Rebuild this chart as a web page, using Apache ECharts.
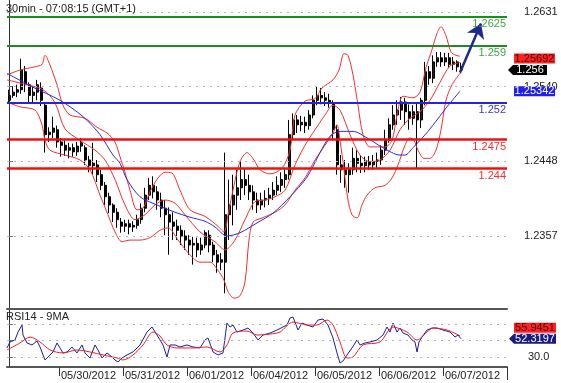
<!DOCTYPE html>
<html><head><meta charset="utf-8">
<script src="https://cdn.jsdelivr.net/npm/echarts@6/dist/echarts.min.js"></script>
<style>html,body{margin:0;padding:0;background:#fff}#c{width:561px;height:383px}</style>
</head><body><div id="c"></div>
<script>
// ---------- DATA ----------
const dayLabels = ['05/30/2012','05/31/2012','06/01/2012','06/04/2012','06/05/2012','06/06/2012','06/07/2012'];
const dayStartSlots = [13, 29, 45, 61, 77, 93, 109];   // 90-min slots
const NSLOT = 125;

const candleOpen = [1.2523,1.2529,1.2533,1.2536,1.2558,1.2542,1.2529,1.2533,1.2538,1.2517,
1.2481,1.2484,1.2487,1.2472,1.2468,1.2462,1.2465,1.2460,1.2467,1.2465,
1.2450,1.2443,1.2444,1.2432,1.2419,1.2405,1.2395,1.2386,1.2374,1.2369,
1.2372,1.2368,1.2370,1.2377,1.2391,1.2407,1.2419,1.2411,1.2401,1.2391,
1.2383,1.2374,1.2369,1.2364,1.2357,1.2352,1.2346,1.2348,1.2340,1.2346,
1.2358,1.2346,1.2334,1.2325,1.2325,1.2383,1.2395,1.2407,1.2416,1.2426,
1.2419,1.2411,1.2401,1.2395,1.2401,1.2403,1.2407,1.2413,1.2419,1.2426,
1.2432,1.2481,1.2499,1.2493,1.2496,1.2492,1.2505,1.2523,1.2529,1.2526,
1.2523,1.2520,1.2487,1.2444,1.2438,1.2432,1.2438,1.2452,1.2446,1.2443,
1.2448,1.2444,1.2448,1.2450,1.2462,1.2474,1.2493,1.2505,1.2511,1.2521,
1.2509,1.2501,1.2509,1.2499,1.2523,1.2558,1.2550,1.2570,1.2575,1.2570,
1.2575,1.2567,1.2570,1.2564];
const candleClose = [1.2529,1.2533,1.2536,1.2560,1.2542,1.2529,1.2533,1.2542,1.2523,1.2481,
1.2484,1.2489,1.2472,1.2468,1.2462,1.2465,1.2460,1.2467,1.2471,1.2450,
1.2443,1.2446,1.2432,1.2419,1.2405,1.2395,1.2386,1.2377,1.2369,1.2372,
1.2368,1.2370,1.2377,1.2391,1.2407,1.2419,1.2411,1.2401,1.2391,1.2383,
1.2374,1.2369,1.2364,1.2357,1.2352,1.2346,1.2348,1.2340,1.2346,1.2361,
1.2346,1.2334,1.2325,1.2328,1.2383,1.2395,1.2407,1.2416,1.2426,1.2419,
1.2411,1.2401,1.2395,1.2401,1.2403,1.2407,1.2413,1.2419,1.2426,1.2432,
1.2481,1.2499,1.2493,1.2496,1.2492,1.2505,1.2523,1.2529,1.2526,1.2523,
1.2520,1.2487,1.2444,1.2438,1.2432,1.2438,1.2452,1.2446,1.2443,1.2448,
1.2444,1.2448,1.2450,1.2462,1.2474,1.2493,1.2505,1.2511,1.2521,1.2509,
1.2501,1.2509,1.2499,1.2523,1.2558,1.2550,1.2570,1.2575,1.2570,1.2575,
1.2567,1.2570,1.2564,1.2560];
const candleLow = [1.2520,1.2526,1.2527,1.2531,1.2533,1.2520,1.2520,1.2523,1.2516,1.2459,
1.2472,1.2477,1.2465,1.2454,1.2455,1.2452,1.2454,1.2455,1.2460,1.2444,
1.2435,1.2432,1.2423,1.2413,1.2395,1.2385,1.2374,1.2367,1.2361,1.2362,
1.2359,1.2362,1.2366,1.2372,1.2386,1.2401,1.2403,1.2389,1.2380,1.2358,
1.2334,1.2352,1.2352,1.2346,1.2340,1.2334,1.2322,1.2331,1.2334,1.2342,
1.2337,1.2325,1.2312,1.2315,1.2287,1.2352,1.2370,1.2389,1.2401,1.2407,
1.2401,1.2389,1.2385,1.2389,1.2392,1.2395,1.2401,1.2407,1.2411,1.2416,
1.2426,1.2474,1.2483,1.2485,1.2483,1.2487,1.2501,1.2517,1.2518,1.2516,
1.2514,1.2474,1.2432,1.2422,1.2416,1.2410,1.2432,1.2435,1.2434,1.2435,
1.2438,1.2438,1.2440,1.2444,1.2456,1.2471,1.2487,1.2493,1.2499,1.2493,
1.2487,1.2493,1.2440,1.2489,1.2517,1.2542,1.2544,1.2564,1.2564,1.2565,
1.2563,1.2560,1.2558,1.2556];
const candleHigh = [1.2536,1.2540,1.2542,1.2574,1.2565,1.2545,1.2540,1.2548,1.2545,1.2520,
1.2490,1.2503,1.2492,1.2477,1.2474,1.2471,1.2470,1.2472,1.2477,1.2468,
1.2455,1.2471,1.2450,1.2438,1.2423,1.2410,1.2397,1.2391,1.2379,1.2377,
1.2377,1.2375,1.2383,1.2397,1.2416,1.2428,1.2430,1.2418,1.2410,1.2401,
1.2392,1.2386,1.2377,1.2370,1.2364,1.2358,1.2356,1.2355,1.2355,1.2364,
1.2364,1.2350,1.2340,1.2336,1.2459,1.2426,1.2432,1.2438,1.2448,1.2440,
1.2432,1.2419,1.2410,1.2410,1.2413,1.2416,1.2423,1.2430,1.2435,1.2440,
1.2499,1.2507,1.2505,1.2504,1.2503,1.2511,1.2529,1.2540,1.2538,1.2533,
1.2531,1.2523,1.2493,1.2456,1.2450,1.2446,1.2465,1.2462,1.2456,1.2454,
1.2455,1.2456,1.2459,1.2468,1.2487,1.2501,1.2517,1.2523,1.2527,1.2526,
1.2518,1.2517,1.2520,1.2526,1.2570,1.2565,1.2578,1.2582,1.2582,1.2581,
1.2581,1.2576,1.2572,1.2569];

const bbUpper = [[-0.5,1.2554],[2.75,1.2560],[6.5,1.2564],[8.25,1.2567],[9,1.2578],[10.25,1.2566],[12,1.2542],[13.5,1.2517],[15.25,1.2505],[19,1.2501],[22,1.2490],[24.5,1.2483],[26.5,1.2472],[27.75,1.2454],[29,1.2435],[30.25,1.2413],[32,1.2389],[33.5,1.2391],[35.25,1.2411],[37.25,1.2428],[39,1.2435],[40.75,1.2434],[42.75,1.2413],[45.25,1.2389],[49,1.2381],[52,1.2370],[53.75,1.2362],[54.75,1.2383],[56.25,1.2419],[57.75,1.2448],[59.5,1.2459],[61.25,1.2450],[62.75,1.2438],[65.25,1.2433],[68.25,1.2440],[70.25,1.2462],[71.5,1.2505],[74,1.2522],[76.5,1.2525],[78.25,1.2538],[81,1.2548],[82.5,1.2560],[83.75,1.2580],[84.75,1.2578],[86,1.2554],[87.25,1.2517],[88.5,1.2481],[90.25,1.2466],[94,1.2466],[95.75,1.2474],[97,1.2505],[98.5,1.2528],[101,1.2526],[102.75,1.2533],[104.25,1.2563],[105.75,1.2585],[107,1.2605],[108,1.2613],[109.25,1.2602],[110.5,1.2582],[111.75,1.2578],[112.75,1.2577]];
const bbMiddle = [[-0.5,1.2548],[4.5,1.2542],[8.5,1.2536],[11.5,1.2520],[14,1.2488],[17.75,1.2474],[21.5,1.2462],[24,1.2450],[26.5,1.2426],[29,1.2395],[31.5,1.2377],[34,1.2383],[36.5,1.2395],[39,1.2401],[41.5,1.2397],[44,1.2383],[47.75,1.2362],[51.5,1.2350],[54,1.2340],[56.5,1.2352],[59,1.2377],[61.5,1.2399],[64,1.2401],[66.5,1.2405],[69,1.2413],[71.5,1.2444],[74,1.2468],[76.5,1.2487],[79,1.2505],[81,1.2517],[82.75,1.2511],[85.25,1.2481],[87.75,1.2456],[90.25,1.2448],[92.75,1.2450],[95.25,1.2462],[97.75,1.2487],[100.25,1.2501],[102.75,1.2509],[105.25,1.2523],[107.75,1.2545],[110.25,1.2565],[112.75,1.25692]];
const bbLower = [[-0.5,1.2521],[2.75,1.2515],[6.5,1.2511],[8.25,1.2493],[9,1.2474],[10.25,1.2462],[14,1.2456],[17.75,1.2450],[20.25,1.2438],[22.75,1.2407],[24.75,1.2383],[26.5,1.2362],[28.25,1.2350],[30.25,1.2352],[32.75,1.2352],[35.25,1.2355],[37.75,1.2364],[39.75,1.2367],[42.25,1.2352],[45.25,1.2334],[47.75,1.2325],[50.25,1.2325],[52.25,1.2315],[53.75,1.2303],[54.75,1.2289],[56.25,1.2281],[57.75,1.2284],[59,1.2301],[60,1.2352],[61,1.2374],[63.25,1.2379],[66.5,1.2386],[69,1.2395],[71.5,1.2413],[74,1.2428],[76.5,1.2450],[79,1.2468],[81,1.2483],[82,1.2493],[82.75,1.2474],[83.75,1.2438],[84.75,1.2401],[85.75,1.2383],[87,1.2379],[88.25,1.2395],[89.5,1.2407],[91.5,1.2416],[94,1.2419],[95.75,1.2428],[97.25,1.2444],[99,1.2468],[100.25,1.2477],[101.25,1.2474],[102.25,1.2462],[103.75,1.2452],[105.25,1.2452],[106.75,1.2462],[108,1.2487],[109.25,1.2523],[110.75,1.2542],[112.75,1.2556]];
const maMain = [[-0.5,1.2556],[6,1.2539],[12.75,1.2523],[18.5,1.2503],[22.75,1.2481],[26,1.2456],[27.75,1.2446],[29.5,1.2426],[32.75,1.2405],[36,1.2397],[41,1.2387],[45.25,1.2380],[49,1.2375],[51.5,1.2368],[54.5,1.2357],[57.75,1.2361],[62,1.2373],[66,1.2385],[70.25,1.2405],[74.5,1.2429],[77.75,1.2459],[80.25,1.2479],[82.75,1.2485],[86,1.2485],[89.5,1.2477],[93.5,1.2465],[97.75,1.2456],[99,1.2456],[101,1.2465],[102.75,1.2474],[104.75,1.2485],[107,1.2499],[109.5,1.2515],[112.75,1.25342]];

const levelValues = [1.2625, 1.259, 1.252, 1.2475, 1.244];
const levelLabels = ['1.2625', '1.259', '1.252', '1.2475', '1.244'];
const priceTicks = [1.2357, 1.24483, 1.25397, 1.2631];
const arrowPath = [[112.75, 1.2557], [118, 1.2617]];

const rsiLine = [[-0.5,41.3],[0.25,48.5],[1.5,50.9],[2.25,60.4],[3.25,68.8],[3.5,56.8],[4.5,47.3],[5.75,44.9],[7,49.7],[7.75,42.5],[9,26.9],[10.25,32.9],[11,36.5],[12,47.3],[12.75,41.3],[13.5,35.3],[14.5,36.5],[15.75,42.5],[17,35.3],[18.25,44.9],[19,35.3],[20.25,29.3],[21.5,44.9],[22.25,38.9],[23.25,29.3],[24.5,35.3],[25.75,30.5],[26.5,26.9],[27.25,24.5],[28.25,29.3],[29.5,32.9],[31,36.5],[32.75,44.9],[34.5,60.4],[35.75,66.4],[37,56.8],[37.75,50.9],[38.5,44.9],[39.5,30.5],[40.25,44.9],[41.5,44.9],[42.75,42.5],[44.5,44.9],[46,42.5],[47.75,41.3],[49,50.9],[49.75,53.3],[51,36.5],[52.25,32.9],[53.5,35.3],[54.5,71.2],[55.25,66.4],[56,68.8],[57,60.4],[58.5,62.8],[59.75,65.2],[61,59.2],[62.25,50.9],[63.5,56.8],[65.25,59.2],[67,62.8],[68.5,66.4],[69.5,68.8],[70.25,77.2],[71,78.4],[72.25,62.8],[73.25,71.2],[74.5,68.8],[76,66.4],[77.25,74.8],[78.5,76.0],[79.75,68.8],[81,53.3],[82,35.3],[82.75,23.3],[83.5,25.7],[84.5,32.9],[85.75,41.3],[87,50.9],[87.75,44.9],[89,47.3],[90.25,48.5],[92,50.9],[93.5,56.8],[94.5,66.4],[95.25,60.4],[96,71.2],[97,60.4],[97.75,65.2],[98.5,59.2],[99.75,56.8],[100.75,50.9],[101.5,48.5],[102,36.5],[102.5,48.5],[103.25,54.4],[104.5,62.8],[105.75,65.2],[107,65.2],[108.5,62.8],[110.25,60.4],[111.5,54.4],[112.25,56.8],[113,52.3197]];
const rsiMa = [[-0.5,38.9],[2.75,47.3],[5.25,54.4],[7.75,48.5],[10.25,38.9],[13.5,35.3],[17,38.9],[20.25,36.5],[23.5,32.9],[27,29.3],[28.5,26.9],[31,32.9],[33.5,44.9],[36,60.4],[37.75,55.6],[39.5,44.9],[42,41.3],[46,41.3],[49.5,42.5],[52.75,36.5],[54.5,44.9],[56,59.2],[59.5,61.6],[62,56.8],[65.25,58.0],[67.75,60.4],[71,72.4],[74.5,68.8],[77,68.8],[79.5,74.8],[81,68.8],[82.75,48.5],[84.5,29.3],[86,30.5],[88.5,44.9],[92.75,48.5],[96,66.4],[99.5,60.4],[102,50.9],[104.5,60.4],[106,65.2],[109.5,62.8],[112.75,55.9451]];
const rsiGridValues = [30, 50, 70];
const rsiTickLabels = [30];

// ---------- CHART ----------
const FONT = '"Liberation Sans", Arial, sans-serif';
const PRICE_MIN = 1.22677, PRICE_MAX = 1.26457;
const RSI_MIN = 18.5, RSI_MAX = 88;
const categories = [];
for (let i = 0; i < NSLOT; i++) {
  const k = dayStartSlots.indexOf(i);
  categories.push(k >= 0 ? dayLabels[k] : '');
}
const isDay = (i) => dayStartSlots.indexOf(i) >= 0;
const candles = candleOpen.map((o, i) => [o, candleClose[i], candleLow[i], candleHigh[i]]);
const levelLine = ['#1e8c1e', '#1e8c1e', '#2323e0', '#f01010', '#f01010'];
const levelText = ['#3fa63f', '#3fa63f', '#3838cc', '#ee3030', '#ee3030'];
const dotted = { type: [2, 5], color: '#b4b4b4', width: 1 };

const chart = echarts.init(document.getElementById('c'), null, { renderer: 'canvas' });
const option = {
  animation: false,
  backgroundColor: '#fff',
  textStyle: { fontFamily: FONT },
  title: [
    { text: '30min - 07:08:15 (GMT+1)', left: 6, top: 3, padding: 0,
      textStyle: { fontSize: 11, fontWeight: 'normal', color: '#222', fontFamily: FONT } },
    { text: 'RSI14 - 9MA', left: 6, top: 311, padding: 0,
      textStyle: { fontSize: 11, fontWeight: 'normal', color: '#222', fontFamily: FONT } }
  ],
  grid: [
    { left: 7, right: 54, top: 0, height: 309 },
    { left: 7, right: 54, top: 309, height: 58 }
  ],
  xAxis: [
    { type: 'category', gridIndex: 0, data: categories, boundaryGap: true,
      axisLine: { show: true, lineStyle: { color: '#555', width: 2 } },
      axisTick: { show: false }, axisLabel: { show: false }, splitLine: { show: false } },
    { type: 'value', gridIndex: 0, min: -0.5, max: NSLOT - 0.5, show: false },
    { type: 'category', gridIndex: 1, data: categories, boundaryGap: true,
      axisLine: { show: true, lineStyle: { color: '#555', width: 2 } },
      axisTick: { show: true, interval: (i) => isDay(i), length: 9, lineStyle: { color: '#333' } },
      axisLabel: { show: true, interval: (i) => isDay(i), align: 'left', margin: 3,
        fontSize: 11, color: '#222', fontFamily: FONT },
      splitLine: { show: false } },
    { type: 'value', gridIndex: 1, min: -0.5, max: NSLOT - 0.5, show: false }
  ],
  yAxis: [
    { type: 'value', gridIndex: 0, position: 'right', min: PRICE_MIN, max: PRICE_MAX,
      axisLine: { show: true, lineStyle: { color: '#333', width: 1 } },
      axisTick: { show: true, customValues: priceTicks, length: 4, lineStyle: { color: '#777' } },
      axisLabel: { customValues: priceTicks, formatter: (v) => Number(v).toFixed(4), margin: 17,
        fontSize: 11, color: '#222', fontFamily: FONT },
      splitLine: { show: false } },
    { type: 'value', gridIndex: 1, position: 'right', min: RSI_MIN, max: RSI_MAX,
      axisLine: { show: true, lineStyle: { color: '#333', width: 1 } },
      axisTick: { show: true, customValues: rsiGridValues, length: 4, lineStyle: { color: '#777' } },
      axisLabel: { customValues: rsiTickLabels, formatter: (v) => Number(v).toFixed(1), margin: 21,
        fontSize: 11, color: '#222', fontFamily: FONT },
      splitLine: { show: false } }
  ],
  series: [
    { type: 'line', xAxisIndex: 1, yAxisIndex: 0, data: [], silent: true, z: 1,
      markLine: { symbol: 'none', silent: true, precision: 6, label: { show: false }, lineStyle: dotted,
        data: priceTicks.map(v => ({ yAxis: v })) } },
    { type: 'candlestick', xAxisIndex: 0, yAxisIndex: 0, data: candles, barWidth: 2.5, z: 3,
      itemStyle: { color: '#222222', color0: '#000000', borderColor: '#000000', borderColor0: '#000000', borderWidth: 1 } },
    { type: 'line', xAxisIndex: 1, yAxisIndex: 0, data: bbUpper, symbol: 'none', smooth: 0.3, z: 4,
      lineStyle: { color: '#f03030', width: 1 } },
    { type: 'line', xAxisIndex: 1, yAxisIndex: 0, data: bbMiddle, symbol: 'none', smooth: 0.3, z: 4,
      lineStyle: { color: '#f03030', width: 1 } },
    { type: 'line', xAxisIndex: 1, yAxisIndex: 0, data: bbLower, symbol: 'none', smooth: 0.3, z: 4,
      lineStyle: { color: '#f03030', width: 1 } },
    { type: 'line', xAxisIndex: 1, yAxisIndex: 0, data: maMain, symbol: 'none', smooth: 0.3, z: 4,
      lineStyle: { color: '#2b2bd8', width: 1 },
      markLine: { symbol: 'none', silent: true, precision: 6,
        data: levelValues.map((v, i) => ({ yAxis: v,
          lineStyle: { color: levelLine[i], width: i >= 3 ? 2.5 : 2, type: 'solid' },
          label: { show: true, position: 'insideEndBottom', formatter: levelLabels[i], color: levelText[i],
            fontSize: 11, fontFamily: FONT, distance: [1, 2] } })) } },
    { type: 'line', xAxisIndex: 1, yAxisIndex: 0, data: [], z: 6,
      markLine: { symbol: ['none', 'arrow'], symbolSize: 14, silent: true, precision: 6, label: { show: false },
        lineStyle: { color: '#1c2a8c', width: 2.5, type: 'solid' },
        data: [[{ coord: arrowPath[0] }, { coord: arrowPath[1] }]] } },
    { type: 'line', xAxisIndex: 3, yAxisIndex: 1, data: rsiMa, symbol: 'none', smooth: 0.3, z: 4,
      lineStyle: { color: '#ee2020', width: 1 },
      markLine: { symbol: 'none', silent: true, precision: 6, label: { show: false }, lineStyle: dotted,
        data: rsiGridValues.map(v => ({ yAxis: v })) } },
    { type: 'line', xAxisIndex: 3, yAxisIndex: 1, data: rsiLine, symbol: 'none', z: 3,
      lineStyle: { color: '#1e1e9e', width: 1 } }
  ]
};
chart.setOption(option);

// value tags at right edge, placed through the axes' scales
const yP = (v) => chart.convertToPixel({ yAxisIndex: 0 }, v);
const yR = (v) => chart.convertToPixel({ yAxisIndex: 1 }, v);
const lastMid = bbMiddle[bbMiddle.length - 1][1];
const lastClose = candleClose[candleClose.length - 1];
const lastMa = maMain[maMain.length - 1][1];
const lastRsiMa = rsiMa[rsiMa.length - 1][1];
const lastRsi = rsiLine[rsiLine.length - 1][1];
function tag(yc, x0, x1, fill, text, txtColor, pointer) {
  const h = 5;
  const shape = pointer
    ? { type: 'polygon', shape: { points: [[x0 - 5, yc], [x0, yc - h], [x1, yc - h], [x1, yc + h], [x0, yc + h]] } }
    : { type: 'rect', shape: { x: x0, y: yc - h, width: x1 - x0, height: 2 * h } };
  shape.style = { fill: fill };
  shape.z = 100;
  return [shape, { type: 'text', z: 101, style: { text: text, x: (x0 + x1) / 2, y: yc, align: 'center',
    verticalAlign: 'middle', fill: txtColor, font: '11px ' + FONT } }];
}
const g = [].concat(
  tag(yP(lastMid) - 4, 514, 555, '#ff2222', String(lastMid), '#4a0000', false),
  tag(yP(lastClose), 513, 547, '#000000', String(lastClose), '#ffffff', true),
  tag(yP(lastMa), 514, 555, '#1f1fee', String(lastMa), '#ffffff', false),
  tag(yR(lastRsiMa) - 8, 514, 556, '#ff2222', lastRsiMa.toFixed(4), '#4a0000', false),
  tag(yR(lastRsi), 514, 556, '#1a1a80', lastRsi.toFixed(4), '#ffffff', true),
  [{ type: 'line', z: 50, shape: { x1: 507.5, y1: 367, x2: 507.5, y2: 380 }, style: { stroke: '#333', lineWidth: 1 } }]
);
chart.setOption({ graphic: g });
</script></body></html>
